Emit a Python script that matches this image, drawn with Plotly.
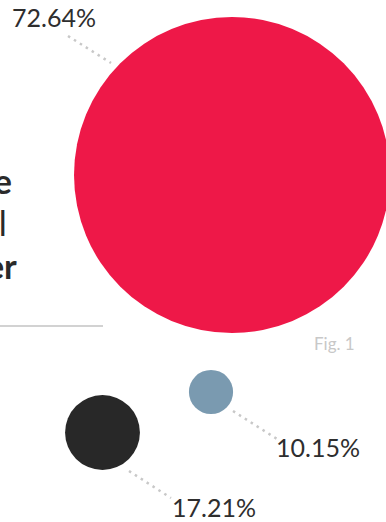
import plotly.graph_objects as go

# Shares shown as circles whose radius scales with the value
labels = ["72.64%", "17.21%", "10.15%"]
values = [72.64, 17.21, 10.15]
colors = ["#EE1848", "#282828", "#7A9AB0"]

# Circle centres (pixel space of the canvas)
cx = [232, 102.5, 211]
cy = [175, 432.5, 392]

# Label anchors and leader-line endpoints
label_x = [54, 214, 318]
label_y = [21, 511, 451]
leader_x = [[68, 111], [129, 171], [233, 277]]
leader_y = [[36, 63], [471, 498], [411, 439]]

W, H = 386, 522
PX_PER_UNIT = 2.175  # radius in px per percentage point

fig = go.Figure()

for lx, ly in zip(leader_x, leader_y):
    fig.add_trace(go.Scatter(
        x=lx, y=ly, mode="lines",
        line=dict(color="#C8C8C8", width=2.5, dash="2.5px,4.5px"),
        hoverinfo="skip", showlegend=False,
    ))

fig.add_trace(go.Scatter(
    x=cx, y=cy, mode="markers",
    marker=dict(
        size=values, sizemode="diameter", sizeref=1 / (2 * PX_PER_UNIT),
        color=colors, line=dict(width=0), opacity=1,
    ),
    cliponaxis=False, hoverinfo="skip", showlegend=False,
))

fig.add_trace(go.Scatter(
    x=label_x, y=label_y, mode="text", text=labels,
    textfont=dict(family="Lato", size=25, color="#2E2E2E"),
    cliponaxis=False, hoverinfo="skip", showlegend=False,
))

# Title block (its left part runs off the canvas)
title_lines = [
    ("Market Share", 14, 195, "bold"),
    ("of the Total", 9, 237, "normal"),
    ("by Number", 19, 280, "bold"),
]
for txt, xr, yb, weight in title_lines:
    fig.add_annotation(
        x=xr, y=yb, xref="x", yref="y", text=txt, showarrow=False,
        xanchor="right", yanchor="bottom", yshift=-8,
        font=dict(family="Lato", size=34, color="#2A2A2A", weight=weight),
    )

fig.add_shape(type="line", x0=0, x1=103, y0=326, y1=326, xref="x", yref="y",
              line=dict(color="#D2D2D2", width=2))

fig.add_annotation(
    x=334, y=343, xref="x", yref="y", text="Fig. 1", showarrow=False,
    font=dict(family="Lato", size=17, color="#C8C8C8"),
)

fig.update_layout(
    width=W, height=H,
    margin=dict(l=0, r=0, t=0, b=0),
    paper_bgcolor="white", plot_bgcolor="white",
    xaxis=dict(range=[0, W], visible=False, fixedrange=True),
    yaxis=dict(range=[H, 0], visible=False, fixedrange=True),
    showlegend=False,
)

fig.write_html("out.html", config={"displayModeBar": False})
